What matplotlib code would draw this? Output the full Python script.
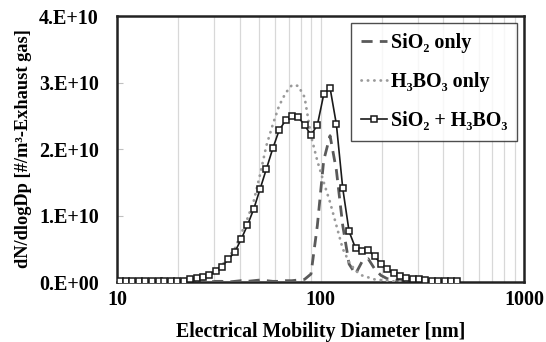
import matplotlib
matplotlib.use("Agg")
import matplotlib.pyplot as plt
from matplotlib.ticker import FixedLocator, NullFormatter

# Particle diameter bins [nm] (32 channels per decade)
diameter = [10.4, 11.1, 11.9, 12.8, 13.8, 14.9, 16.0, 17.1, 18.4, 19.8,
            21.3, 22.9, 24.6, 26.4, 28.4, 30.5, 32.8, 35.2, 37.9, 40.7,
            43.7, 47.0, 50.5, 54.2, 58.3, 62.6, 67.3, 72.3, 77.7, 83.5,
            89.8, 96.5, 103.7, 111.4, 119.7, 128.6, 138.2, 148.6, 159.6, 171.5,
            184.3, 198.1, 212.9, 228.8, 245.8, 264.2, 283.9, 305.1, 327.8, 352.3,
            378.6, 406.9, 437.1, 469.8]

# dN/dlogDp in units of 1e10 #/m3
sio2_only = [0.0, 0.0, 0.0, 0.0, 0.0, 0.0, 0.0, 0.0, 0.0, 0.0,
             0.0, 0.0, 0.0, 0.0, 0.0, 0.01, 0.01, 0.0, 0.01, 0.02,
             0.01, 0.02, 0.03, 0.02, 0.01, 0.01, 0.02, 0.02, 0.03, 0.04,
             0.12, 0.85, 1.83, 2.2, 1.68, 0.85, 0.27, 0.12, 0.3, 0.35,
             0.2, 0.1, 0.05, 0.03, 0.02, 0.01, 0.01, 0.0, 0.0, 0.0,
             0.0, 0.0, 0.0, 0.0]

h3bo3_only = [0.0, 0.0, 0.0, 0.0, 0.0, 0.0, 0.0, 0.0, 0.0, 0.0,
              0.0, 0.01, 0.02, 0.05, 0.1, 0.17, 0.25, 0.37, 0.5, 0.72,
              0.95, 1.22, 1.62, 2.05, 2.37, 2.65, 2.84, 2.96, 2.95, 2.78,
              2.2, 1.82, 1.5, 1.2, 0.85, 0.5, 0.3, 0.17, 0.1, 0.07,
              0.04, 0.03, 0.02, 0.01, 0.01, 0.0, 0.0, 0.0, 0.0, 0.0,
              0.0, 0.0, 0.0, 0.0]

sio2_h3bo3 = [0.01, 0.01, 0.01, 0.01, 0.01, 0.01, 0.01, 0.01, 0.01, 0.01,
              0.02, 0.04, 0.06, 0.08, 0.1, 0.16, 0.23, 0.34, 0.45, 0.64,
              0.85, 1.1, 1.4, 1.7, 2.01, 2.28, 2.43, 2.49, 2.48, 2.36,
              2.21, 2.36, 2.82, 2.92, 2.37, 1.41, 0.76, 0.51, 0.47, 0.48,
              0.39, 0.27, 0.19, 0.13, 0.09, 0.06, 0.05, 0.04, 0.03, 0.02,
              0.02, 0.01, 0.01, 0.01]

y_ticks = [0, 1, 2, 3, 4]
y_tick_labels = ["0.E+00", "1.E+10", "2.E+10", "3.E+10", "4.E+10"]
x_ticks = [10, 100, 1000]
x_tick_labels = ["10", "100", "1000"]

serif = ["Liberation Serif", "DejaVu Serif"]
plt.rcParams["font.family"] = serif
plt.rcParams["font.weight"] = "bold"

fig = plt.figure(figsize=(5.46, 3.42), dpi=100)
ax = fig.add_axes([0.2143, 0.1754, 0.7454, 0.7778])

ax.plot(diameter, sio2_only, color="#5a5a5a", lw=2.0,
        dashes=(4.0, 2.6), label="SiO\u2082 only", zorder=3)
ax.plot(diameter, h3bo3_only, color="#9a9a9a", lw=2.0,
        linestyle=(0, (0.1, 2.2)), dash_capstyle="round",
        label="H\u2083BO\u2083 only", zorder=3)
ax.plot(diameter, sio2_h3bo3, color="#1a1a1a", lw=1.2, marker="s",
        markersize=4.6, markerfacecolor="white", markeredgecolor="#1a1a1a",
        markeredgewidth=1.1, label="SiO\u2082 + H\u2083BO\u2083", zorder=4)

ax.set_xscale("log")
ax.set_xlim(10, 1000)
ax.set_ylim(0, 4)

ax.xaxis.set_major_locator(FixedLocator(x_ticks))
ax.set_xticklabels(x_tick_labels, fontsize=14.5, fontweight="bold")
ax.xaxis.set_minor_locator(FixedLocator(
    [20, 30, 40, 50, 60, 70, 80, 90, 200, 300, 400, 500, 600, 700, 800, 900]))
ax.xaxis.set_minor_formatter(NullFormatter())
ax.grid(axis="x", which="both", color="#d8d8d8", lw=0.9, zorder=0)
ax.tick_params(axis="x", which="both", length=0, pad=6)

ax.set_yticks(y_ticks)
ax.set_yticklabels(y_tick_labels, fontsize=14.5, fontweight="bold")
ax.tick_params(axis="y", direction="in", length=4, color="#c0c0c0", pad=13)

for s in ax.spines.values():
    s.set_linewidth(1.8)
    s.set_color("#222222")

ax.set_xlabel("Electrical Mobility Diameter [nm]", fontsize=14.3,
              fontweight="bold")
ax.xaxis.set_label_coords(0.5, -0.15)
ax.set_ylabel("dN/dlogDp [#/m\u00b3-Exhaust gas]", fontsize=13.2,
              fontweight="bold")
ax.yaxis.set_label_coords(-0.21, 0.5)

leg = ax.legend(loc="upper right", bbox_to_anchor=(0.983, 0.974),
                fontsize=14.5, frameon=True, fancybox=False,
                handlelength=1.25, handletextpad=0.2, borderpad=0.5,
                labelspacing=0.95, borderaxespad=0.0)
leg.get_frame().set_edgecolor("#222222")
leg.get_frame().set_linewidth(1.0)
for t in leg.get_texts():
    t.set_fontweight("bold")

fig.savefig("out.png", dpi=100)
